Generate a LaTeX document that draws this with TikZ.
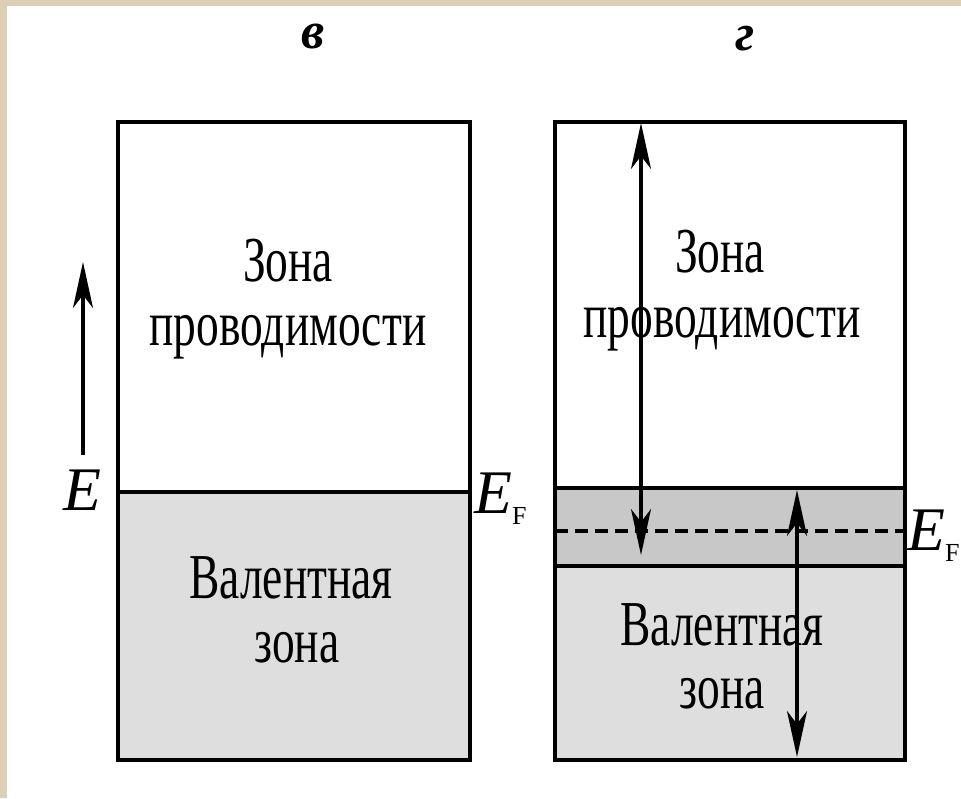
\documentclass[tikz,border=0pt]{standalone}
\usepackage{fontspec}
\setmainfont{Liberation Serif}
\usetikzlibrary{arrows.meta}
\definecolor{framebeige}{HTML}{DCCFB5}
\definecolor{valband}{HTML}{DEDEDE}
\definecolor{fermiband}{HTML}{C8C8C8}
\tikzset{
  box/.style={line width=3.6pt},
  level/.style={line width=3.4pt},
  fermi/.style={line width=3.2pt, dash pattern=on 13pt off 7pt},
  tip/.tip={Stealth[length=46pt,width=20pt,inset=13pt]},
  harrow/.style={line width=3.4pt, -tip},
  dharrow/.style={line width=3.2pt, tip-tip},
  zonetext/.style={anchor=base, inner sep=0pt, font=\fontsize{64}{66}\selectfont, xscale=0.71},
  symb/.style={anchor=base, inner sep=0pt, font=\fontsize{62}{64}\selectfont\itshape},
  title/.style={anchor=base, inner sep=0pt, font=\fontsize{52}{54}\selectfont\itshape\bfseries},
}
\newcommand{\fermiE}{E\raisebox{-11pt}{\fontsize{26}{28}\selectfont\upshape F}}
\begin{document}
\begin{tikzpicture}[x=1pt,y=-1pt]
  % page frame
  \fill[framebeige] (0,0) rectangle (961,798);
  \fill[white] (7,6) rectangle (961,798);
  \useasboundingbox (0,0) rectangle (961,798);

  % titles
  \node[title] (tv) at (313,48) {в};
  \node[title] (tg) at (745,50) {г};

  % left diagram: metal
  \fill[valband] (118,492) rectangle (470,760);
  \draw[box] (118,122) rectangle (470,760);
  \draw[level] (118,492) -- (470,492);
  \node[zonetext] (lc1) at (288,281) {Зона};
  \node[zonetext] (lc2) at (288,345) {проводимости};
  \node[zonetext] (lv1) at (291,598) {Валентная};
  \node[zonetext] (lv2) at (297,662) {зона};
  \node[symb] (lE) at (82,510) {E};
  \node[symb, anchor=base west] (lEF) at (474,513) {\fermiE};

  % energy axis
  \coordinate (etail) at (83,455);
  \coordinate (ehead) at (83,262);
  \draw[harrow] (etail) -- (ehead);

  % right diagram: semiconductor with Fermi level band
  \fill[valband] (555,566) rectangle (905,760);
  \fill[fermiband] (555,488) rectangle (905,566);
  \draw[box] (555,122) rectangle (905,760);
  \draw[level] (553,488) -- (905,488);
  \draw[level] (553,566) -- (905,566);
  \draw[fermi] (555,531) -- (905,531);
  \node[zonetext] (rc1) at (720,272) {Зона};
  \node[zonetext] (rc2) at (722,337) {проводимости};
  \node[zonetext] (rv1) at (722,645) {Валентная};
  \node[zonetext] (rv2) at (722,708) {зона};
  \node[symb, anchor=base west] (rEF) at (907,550) {\fermiE};

  % conduction-band and valence-band extents
  \coordinate (ctop) at (641,123);
  \coordinate (cbot) at (641,555);
  \draw[dharrow] (cbot) -- (ctop);
  \coordinate (vtop) at (797,490);
  \coordinate (vbot) at (797,757);
  \draw[dharrow] (vbot) -- (vtop);
\end{tikzpicture}
\end{document}
